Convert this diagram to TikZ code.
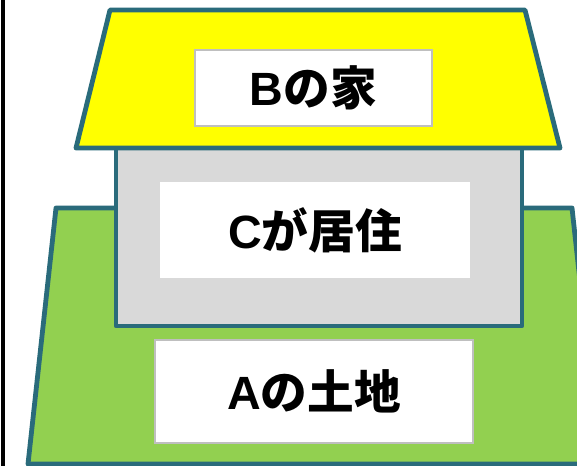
\documentclass[tikz,border=0pt]{standalone}
\usepackage{fontspec}
\newfontfamily\jpfont{Noto Sans CJK JP}
\newfontfamily\latfont{Liberation Sans}
\newcommand{\lt}[1]{{\latfont\bfseries #1}}
\definecolor{edge}{HTML}{2A6B7B}
\definecolor{roof}{HTML}{FFFF00}
\definecolor{land}{HTML}{92D050}
\definecolor{wall}{HTML}{D9D9D9}
\definecolor{rim}{HTML}{BFBFBF}
\tikzset{
  part/.style={draw=edge,line width=3.6pt,line join=round},
  tag/.style={fill=white,draw=rim,line width=1pt,inner sep=0pt,
    font=\jpfont\bfseries\fontsize{35}{40}\selectfont}
}
\begin{document}
\begin{tikzpicture}[x=0.75pt,y=-0.75pt]
 \useasboundingbox (0,0) rectangle (577,465);
 \clip (0,0) rectangle (577,465);
 \fill[white](0,0) rectangle (577,465);
 \draw[black,line width=2.4pt](3,-5)--(3,470);
 % land, house, roof
 \draw[part,fill=land](56,208)--(572,208)--(600,464)--(28,464)--cycle;
 \draw[part,fill=wall](116,130) rectangle (522,326);
 \draw[part,fill=roof](110,10)--(525,10)--(560,148)--(76,148)--cycle;
 % labels
 \node[tag,minimum width=237*0.75pt,minimum height=76*0.75pt] (house) at (313.5,88) {\lt{B}の家};
 \node[tag,draw=none,minimum width=310*0.75pt,minimum height=96*0.75pt] (resident) at (315,230) {\lt{C}が居住};
 \node[tag,minimum width=318*0.75pt,minimum height=103*0.75pt] (lot) at (314,391.5) {\lt{A}の土地};
\end{tikzpicture}
\end{document}
